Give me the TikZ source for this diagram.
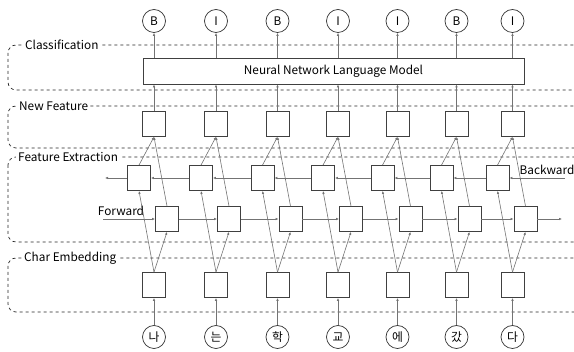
\documentclass[tikz,border=0pt]{standalone}
\usepackage{fontspec}
\setmainfont{Noto Sans CJK KR}
\usepackage{tikz}
\usetikzlibrary{positioning, arrows.meta}

\begin{document}
\begin{tikzpicture}[x=1pt, y=-1pt, font=\fontsize{11.8}{14}\selectfont,
                    unit/.style={rectangle, draw=black!75, line width=0.8pt, fill=white, inner sep=0pt, minimum width=23pt, minimum height=25pt},
                    tag/.style={circle, draw=black!80, line width=0.7pt, inner sep=0pt, minimum size=23pt},
                    link/.style={draw=black!55, line width=0.6pt, -{Latex[length=3pt, width=2.6pt]}},
                    group/.style={draw=black!85, dashed, line width=0.7pt, rounded corners=8pt},
                    grouplabel/.style={fill=white, inner sep=2pt, anchor=west}]
                    \clip (0,0) rectangle (574,352);

                    % dashed layer boxes
                    \draw[group] (8,45) rectangle (582,90);
                    \draw[group] (8,106) rectangle (582,148);
                    \draw[group] (8,157) rectangle (582,242);
                    \draw[group] (8,258) rectangle (582,312);
                    \node[grouplabel] (clsL) at (23,45) {Classification};
                    \node[grouplabel] (nfL) at (17,106) {New Feature};
                    \node[grouplabel] (feL) at (16,157) {Feature Extraction};
                    \node[grouplabel] (ceL) at (22,258) {Char Embedding};

                    \node[draw=black!75, line width=0.8pt, fill=white, minimum width=381pt, minimum height=26pt] (nnlm) at (333.5,71) {Neural Network Language Model};

                    % one column per syllable
                    \foreach \x/\i/\out/\ch in {154/1/B/나, 216/2/I/는, 277.5/3/B/학, 338/4/I/교, 397.5/5/I/에, 456.5/6/B/갔, 512.5/7/I/다} {
                        \node[tag] (o\i) at (\x,21) {\out};
                        \node[tag] (c\i) at (\x,337) {\ch};
                        \node[unit] (e\i) at (\x,285) {};
                        \node[unit] (b\i) at (\x-15,178) {};
                        \node[unit] (f\i) at (\x+13,219) {};
                        \node[unit] (n\i) at (\x,124) {};

                        \draw[link] (c\i) -- (e\i);
                        \draw[link] (e\i.north) -- (b\i.south);
                        \draw[link] (e\i.north) -- (f\i.south);
                        \draw[link] (b\i.north) -- (n\i.south);
                        \draw[link] (f\i.north) -- (n\i.south);
                        \draw[link] (n\i) -- (n\i |- nnlm.south);
                        \draw[link] (n\i |- nnlm.north) -- (o\i);
                    }

                    % recurrent chains
                    \coordinate (fwdIn) at (103,219);
                    \coordinate (fwdOut) at (562,219);
                    \coordinate (bwdIn) at (565,178);
                    \coordinate (bwdOut) at (105,178);
                    \draw[link] (fwdIn) -- (f1);
                    \draw[link] (f7) -- (fwdOut);
                    \draw[link] (bwdIn) -- (b7);
                    \draw[link] (b1) -- (bwdOut);
                    \foreach \i [remember=\i as \j (initially 1)] in {2,...,7} {
                        \draw[link] (f\j) -- (f\i);
                        \draw[link] (b\i) -- (b\j);
                    }
                    \node (fwdL) at (121,211) {Forward};
                    \node (bwdL) at (547,170) {Backward};
                \end{tikzpicture}
\end{document}
